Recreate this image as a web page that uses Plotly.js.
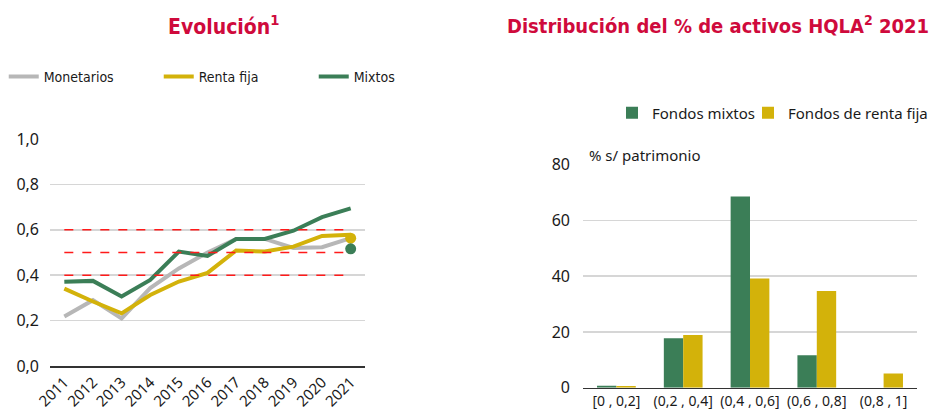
<!DOCTYPE html>
<html>
<head>
<meta charset="utf-8">
<script src="https://cdn.plot.ly/plotly-3.0.1.min.js"></script>
<style>html,body{margin:0;padding:0;background:#fff;}#chart{width:936px;height:416px;}</style>
</head>
<body>
<div id="chart"></div>
<script>
// ---- data ----
const years = ['2011','2012','2013','2014','2015','2016','2017','2018','2019','2020','2021'];
const monetarios = [0.218, 0.29, 0.21, 0.343, 0.43, 0.50, 0.56, 0.56, 0.52, 0.523, 0.563];
const rentaFija  = [0.341, 0.284, 0.232, 0.313, 0.372, 0.41, 0.509, 0.504, 0.526, 0.573, 0.578];
const mixtos     = [0.371, 0.375, 0.306, 0.379, 0.504, 0.485, 0.559, 0.56, 0.596, 0.656, 0.694];
const dotYear = ['2021'];
const dotRentaFija = [0.563];
const dotMixtos = [0.516];
const thresholds = [0.4, 0.5, 0.6];

const bins = ['[0 , 0,2]', '(0,2 , 0,4]', '(0,4 , 0,6]', '(0,6 , 0,8]', '(0,8 , 1]'];
const fondosMixtos = [0.7, 17.7, 68.6, 11.6, 0];
const fondosRentaFija = [0.6, 18.9, 39.2, 34.7, 5.1];

// ---- style ----
const GRAY = '#b7b7b7', YEL = '#d3b20a', GRN = '#3b7e57', RED = '#ff1a1a', TITLE = '#cf0a3c';
const FONT = 'Noto Sans, Open Sans, sans-serif';
const NARROW = 'Liberation Sans Narrow, DejaVu Sans Condensed, sans-serif';

const traces = [
  {x: years, y: monetarios, name: 'Monetarios', type: 'scatter', mode: 'lines',
   line: {color: GRAY, width: 4}, xaxis: 'x', yaxis: 'y', legend: 'legend'},
  {x: years, y: rentaFija, name: 'Renta fija', type: 'scatter', mode: 'lines',
   line: {color: YEL, width: 4}, xaxis: 'x', yaxis: 'y', legend: 'legend'},
  {x: years, y: mixtos, name: 'Mixtos', type: 'scatter', mode: 'lines',
   line: {color: GRN, width: 4}, xaxis: 'x', yaxis: 'y', legend: 'legend'},
  {x: dotYear, y: dotRentaFija, type: 'scatter', mode: 'markers', showlegend: false,
   marker: {color: YEL, size: 11}, xaxis: 'x', yaxis: 'y'},
  {x: dotYear, y: dotMixtos, type: 'scatter', mode: 'markers', showlegend: false,
   marker: {color: GRN, size: 11}, xaxis: 'x', yaxis: 'y'},
  {x: bins, y: fondosMixtos, name: 'Fondos mixtos', type: 'bar',
   marker: {color: GRN}, xaxis: 'x2', yaxis: 'y2', legend: 'legend2'},
  {x: bins, y: fondosRentaFija, name: 'Fondos de renta fija', type: 'bar',
   marker: {color: YEL}, xaxis: 'x2', yaxis: 'y2', legend: 'legend3'}
];

const shapes = thresholds.map(t => ({
  type: 'line', xref: 'x', yref: 'y', x0: 0, x1: 9.8, y0: t, y1: t,
  line: {color: RED, width: 1.5, dash: 'dash'}, layer: 'above'
}));

const barLegend = (xpx) => ({orientation: 'h', x: xpx/936, xanchor: 'left', y: 1 - 113/416,
  yanchor: 'middle', font: {size: 15, family: FONT}, itemwidth: 30, bgcolor: 'rgba(0,0,0,0)'});

const layout = {
  width: 936, height: 416,
  margin: {l: 0, r: 0, t: 0, b: 0},
  paper_bgcolor: '#fff', plot_bgcolor: '#fff',
  separators: ',.',
  font: {family: FONT, size: 15, color: '#1a1a1a'},
  barmode: 'group', bargap: 0.42, bargroupgap: 0,
  xaxis: {domain: [50/936, 365/936], anchor: 'y', type: 'category', range: [-0.5, 10.5],
          tickangle: -45, showgrid: false, showline: true, linecolor: '#333', linewidth: 1.5,
          ticks: '', tickfont: {size: 15, family: FONT}, automargin: false},
  yaxis: {domain: [1 - 366/416, 1 - 139/416], anchor: 'x', range: [0, 1.0], dtick: 0.2,
          tickformat: '.1f', gridcolor: '#d6d6d6', gridwidth: 1.5, zeroline: false,
          showline: false, ticks: '', ticklabelstandoff: 10, tickfont: {size: 16, family: FONT},
          automargin: false},
  xaxis2: {domain: [583/936, 917/936], anchor: 'y2', type: 'category', tickangle: 0,
           showgrid: false, showline: true, linecolor: '#333', linewidth: 1.5, ticks: '',
           tickfont: {size: 14, family: FONT}, automargin: false},
  yaxis2: {domain: [1 - 387.7/416, 1 - 164.7/416], anchor: 'x2', range: [0, 80], dtick: 20,
           gridcolor: '#d6d6d6', gridwidth: 1.5, zeroline: false, showline: false, ticks: '',
           ticklabelstandoff: 12, tickfont: {size: 16, family: FONT}, automargin: false},
  legend: {orientation: 'h', x: 0.004, xanchor: 'left', y: 1 - 77/416, yanchor: 'middle',
           entrywidth: 110, entrywidthmode: 'pixels', font: {size: 14, family: NARROW},
           itemwidth: 30, bgcolor: 'rgba(0,0,0,0)', tracegroupgap: 0},
  legend2: barLegend(612),
  legend3: barLegend(748),
  shapes: shapes,
  annotations: [
    {text: '<b>Evolución<sup>1</sup></b>', xref: 'paper', yref: 'paper', x: 223/936, y: 1 - 25/416,
     xanchor: 'center', yanchor: 'middle', showarrow: false,
     font: {family: NARROW, size: 21, color: TITLE}},
    {text: '<b>Distribución del % de activos HQLA<sup>2</sup> 2021</b>', xref: 'paper', yref: 'paper',
     x: 718/936, y: 1 - 25/416, xanchor: 'center', yanchor: 'middle', showarrow: false,
     font: {family: NARROW, size: 20, color: TITLE}},
    {text: '% s/ patrimonio', xref: 'paper', yref: 'paper', x: 587/936, y: 1 - 155/416,
     xanchor: 'left', yanchor: 'middle', showarrow: false,
     font: {family: FONT, size: 15, color: '#1a1a1a'}}
  ]
};

Plotly.newPlot('chart', traces, layout, {staticPlot: true, displayModeBar: false});
</script>
</body>
</html>
